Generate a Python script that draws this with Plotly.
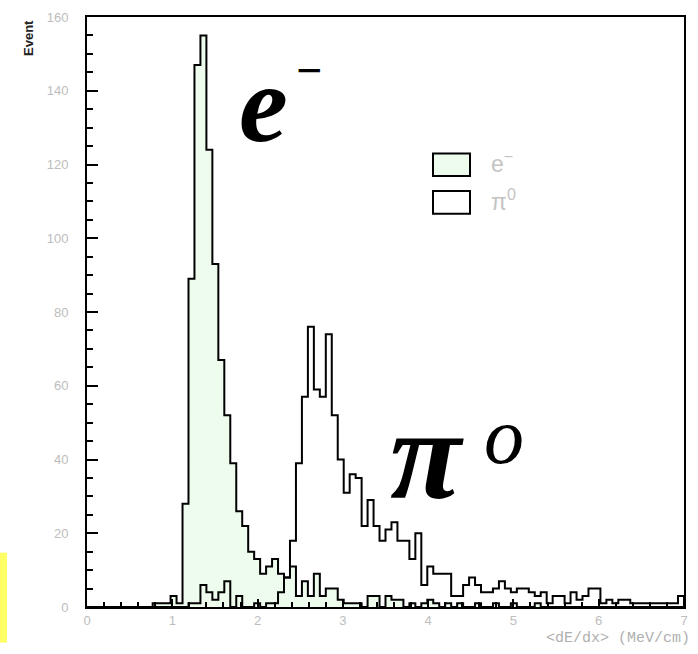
import plotly.graph_objects as go

# ---- data (counts per bin, 100 bins of width 0.07 on [0, 7]) ----
X_MIN, X_MAX = 0.0, 7.0
N_BINS = 100

electron_counts = [
    0, 0, 0, 0, 0, 0, 0, 0, 0, 0,
    0, 1, 1, 1, 3, 1, 28, 89, 147, 155,
    124, 93, 67, 52, 39, 26, 22, 15, 13, 9,
    11, 13, 9, 8, 11, 3, 7, 3, 9, 3,
    5, 5, 2, 1, 1, 1, 0, 3, 3, 0,
    3, 2, 2, 0, 1, 0, 1, 2, 1, 0,
    1, 0, 1, 0, 0, 1, 0, 0, 1, 0,
    0, 1, 0, 0, 0, 1, 0, 0, 0, 0,
    0, 0, 0, 0, 0, 0, 0, 0, 0, 0,
    0, 0, 0, 0, 0, 0, 0, 0, 0, 0,
]

pion_counts = [
    0, 0, 0, 0, 0, 0, 0, 0, 0, 0,
    0, 0, 0, 0, 0, 0, 0, 1, 1, 6,
    4, 2, 4, 7, 0, 3, 0, 0, 1, 0,
    1, 1, 4, 8, 18, 39, 57, 76, 59, 57,
    74, 52, 40, 31, 36, 35, 22, 29, 22, 18,
    21, 23, 18, 18, 13, 20, 6, 11, 9, 9,
    9, 3, 3, 6, 8, 6, 4, 4, 5, 7,
    5, 4, 5, 5, 4, 3, 4, 1, 3, 3,
    1, 4, 2, 3, 5, 5, 1, 2, 1, 2,
    2, 1, 1, 1, 1, 1, 1, 1, 1, 3,
]

x_tick_vals = [0, 1, 2, 3, 4, 5, 6, 7]
x_tick_text = ["0", "1", "2", "3", "4", "5", "6", "7"]
y_tick_vals = [0, 20, 40, 60, 80, 100, 120, 140, 160]
y_tick_text = ["0", "20", "40", "60", "80", "100", "120", "140", "160"]

x_title = "&lt;dE/dx&gt; (MeV/cm)"
y_title = "Event"

# ---- layout geometry ----
W, H = 698, 654
L, R, T, B = 87, 14, 10, 47
PW, PH = W - L - R, H - T - B


def px(x):
    return (x - L) / PW


def py(y):
    return (H - B - y) / PH


bin_w = (X_MAX - X_MIN) / N_BINS
edges = [X_MIN + k * bin_w for k in range(N_BINS + 1)]


def step_xy(counts):
    xs = list(edges) + [edges[-1]]
    ys = list(counts) + [counts[-1], 0]
    return xs, ys


fig = go.Figure()

ex, ey = step_xy(electron_counts)
fig.add_trace(go.Scatter(
    x=ex, y=ey, mode="lines", line=dict(shape="hv", color="black", width=2),
    fill="tozeroy", fillcolor="rgb(238,252,238)", showlegend=False, hoverinfo="skip"))

pxs, pys = step_xy(pion_counts)
fig.add_trace(go.Scatter(
    x=pxs, y=pys, mode="lines", line=dict(shape="hv", color="black", width=2),
    showlegend=False, hoverinfo="skip"))

tick_font = dict(family="Liberation Sans, Arial, sans-serif", size=13, color="#bdbdbd")

fig.update_layout(
    width=W, height=H, autosize=False,
    margin=dict(l=L, r=R, t=T, b=B, pad=0),
    paper_bgcolor="white", plot_bgcolor="white",
    xaxis=dict(range=[X_MIN, X_MAX], tickvals=x_tick_vals, ticktext=x_tick_text,
               ticks="inside", ticklen=8, tickwidth=1.5, tickcolor="black",
               showline=True, linecolor="black", linewidth=2, mirror=True,
               showgrid=False, zeroline=False, tickfont=tick_font,
               ticklabelstandoff=0,
               minor=dict(dtick=0.2, ticks="inside", ticklen=5, tickwidth=1.5,
                          tickcolor="black", showgrid=False)),
    yaxis=dict(range=[0, 160], tickvals=y_tick_vals, ticktext=y_tick_text,
               ticks="inside", ticklen=11, tickwidth=1.5, tickcolor="black",
               showline=True, linecolor="black", linewidth=2, mirror=True,
               showgrid=False, zeroline=False, tickfont=tick_font,
               ticklabelstandoff=14,
               minor=dict(dtick=5, ticks="inside", ticklen=6, tickwidth=1.5,
                          tickcolor="black", showgrid=False)),
)

shapes = [
    # legend boxes
    dict(type="rect", xref="paper", yref="paper",
         x0=px(433), x1=px(470), y0=py(171), y1=py(148),
         line=dict(color="black", width=2), fillcolor="rgb(238,252,238)"),
    dict(type="rect", xref="paper", yref="paper",
         x0=px(433), x1=px(470), y0=py(209), y1=py(186),
         line=dict(color="black", width=2), fillcolor="white"),
    # yellow strip at the lower left
    dict(type="rect", xref="paper", yref="paper", layer="above",
         x0=px(0), x1=px(7), y0=py(643), y1=py(552),
         line=dict(width=0), fillcolor="#ffff66"),
]
fig.update_layout(shapes=shapes)

serif = "Liberation Serif, Times New Roman, serif"
sans = "Liberation Sans, Arial, sans-serif"
mono = "Liberation Mono, DejaVu Sans Mono, monospace"
ann = [
    dict(text="<b><i>e</i></b>", x=px(263), y=py(98), font=dict(family=serif, size=110, color="black")),
    dict(text="<b>−</b>", x=px(309), y=py(64), font=dict(family=serif, size=46, color="black")),
    dict(text="<b><i>π</i></b>", x=px(427), y=py(452), font=dict(family=serif, size=130, color="black")),
    dict(text="<i>o</i>", x=px(504), y=py(434), font=dict(family=serif, size=80, color="black")),
    dict(text="e<sup>−</sup>", x=px(489), y=py(157), xanchor="left",
         font=dict(family=sans, size=23, color="#c4c4c4")),
    dict(text="π<sup>0</sup>", x=px(489), y=py(195), xanchor="left",
         font=dict(family=sans, size=23, color="#c4c4c4")),
    dict(text="<b>" + y_title + "</b>", x=px(29), y=py(11), textangle=-90, yanchor="top",
         font=dict(family=sans, size=13, color="#222222")),
    dict(text=x_title, x=px(692), y=py(639), xanchor="right",
         font=dict(family=mono, size=15, color="#b0b0b0")),
]
for a in ann:
    a.setdefault("xanchor", "center")
    a.setdefault("yanchor", "middle")
    a.update(xref="paper", yref="paper", showarrow=False)
fig.update_layout(annotations=ann)

fig.write_html("out.html", config={"displayModeBar": False},
               post_script="document.body.style.margin='0';document.body.style.overflow='hidden';")
